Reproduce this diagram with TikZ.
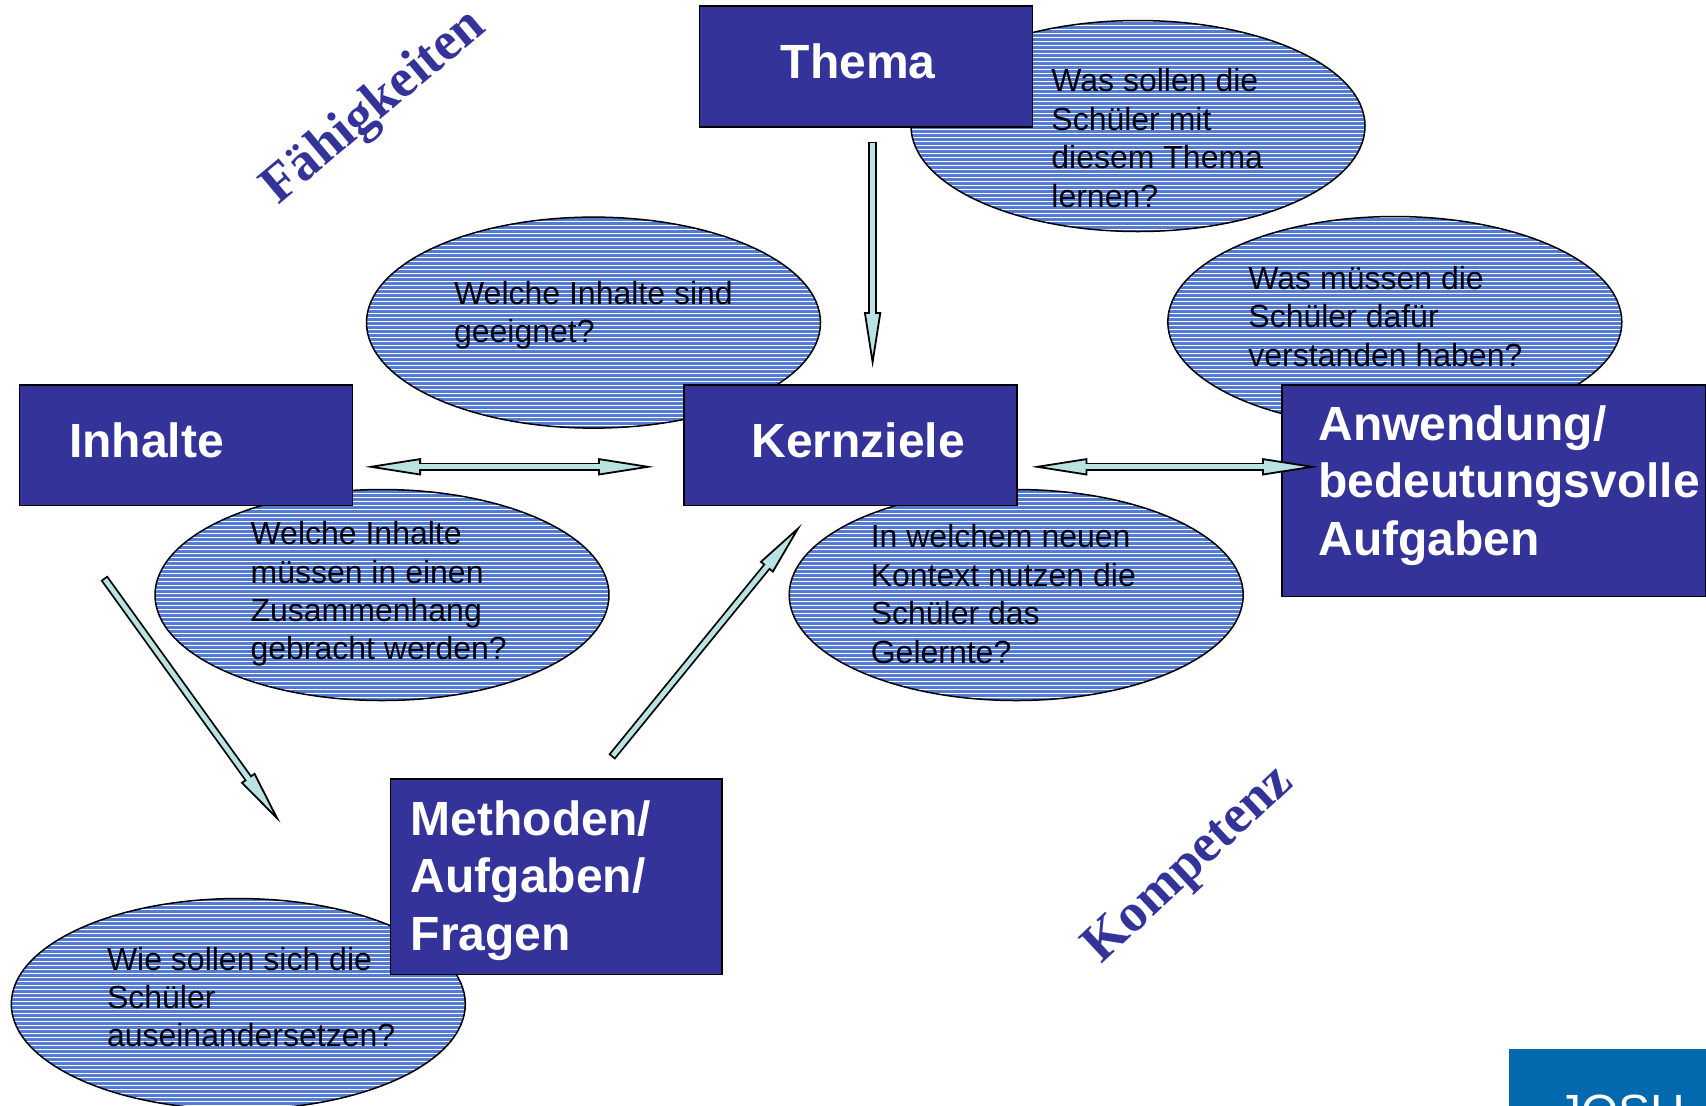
\documentclass[tikz,border=0pt]{standalone}
\usepackage{fontspec}
\setmainfont{Liberation Sans}
\newfontfamily\wordfont{Liberation Serif}
\usetikzlibrary{arrows.meta,shapes.geometric,patterns.meta}
\definecolor{boxblue}{RGB}{51,51,153}
\definecolor{ellblue}{RGB}{84,124,212}
\definecolor{arrowfill}{RGB}{185,226,226}
\definecolor{wordblue}{RGB}{51,51,153}
\definecolor{logoblue}{RGB}{3,105,175}

\begin{document}
\begin{tikzpicture}[
            x=0.5pt, y=-0.5pt,
            mybox/.style={
            rectangle,
            draw=black,
            line width=0.75pt,
            fill=boxblue,
            text=white,
            anchor=north west,
            inner sep=0pt,
            align=left,
            minimum width=166.5pt,
            minimum height=60.4pt,
            text depth=5.4pt,
            font=\fontsize{24}{28.75}\selectfont\bfseries},
        myellipse/.style={
            ellipse,
            draw=black,
            line width=0.75pt,
            minimum width=227pt,
            minimum height=105.5pt,
            inner sep=0pt,
            preaction={fill=ellblue},
            pattern={Lines[angle=0,distance=2pt,line width=0.45pt]},
            pattern color=white},
        mytext/.style={anchor=west, align=left, inner sep=0pt,
            font=\fontsize{16}{19.2}\selectfont},
        myword/.style={text=wordblue, inner sep=0pt,
            font=\wordfont\bfseries\fontsize{27}{30}\selectfont},
        >={Triangle[length=28pt,width=8.5pt,fill=arrowfill,line width=0.9pt]},
        myarrow/.style={draw=black, line width=4.2pt, ->,
            postaction={draw=arrowfill, line width=2.4pt, arrows=-,
                shorten <=0.9pt, shorten >=26.5pt}},
        mydarrow/.style={draw=black, line width=4.2pt, <->,
            postaction={draw=arrowfill, line width=2.4pt, arrows=-,
                shorten <=26.5pt, shorten >=26.5pt}}
        ]
        \useasboundingbox (0,0) rectangle (1706,1105);

        % ellipses with the questions
        \node[myellipse] (ethema) at (1138,126) {};
        \node[myellipse] (einhalt) at (593.5,322.6) {};
        \node[myellipse] (everst) at (1394.8,322) {};
        \node[myellipse] (ezusam) at (382,595) {};
        \node[myellipse] (ekontext) at (1016.2,595) {};
        \node[myellipse] (emethode) at (238.3,1004) {};

        \node[mytext] (tthema) at (1051,138) {Was sollen die\\Schüler mit\\diesem Thema\\lernen?};
        \node[mytext] (tinhalt) at (453.7,315) {Welche Inhalte sind\\geeignet?};
        \node[mytext] (tverst) at (1248,316.5) {Was müssen die\\Schüler dafür\\verstanden haben?};
        \node[mytext] (tzusam) at (250.2,594) {Welche Inhalte\\müssen in einen\\Zusammenhang\\gebracht werden?};
        \node[mytext] (tkontext) at (870.4,594) {In welchem neuen\\Kontext nutzen die\\Schüler das\\Gelernte?};
        \node[mytext] (tmethode) at (106.6,997) {Wie sollen sich die\\Schüler\\auseinandersetzen?};

        % boxes
        \node[mybox, text width=85pt] (thema) at (698.5,5.4) {Thema};
        \node[mybox, text width=116.5pt] (inhalte) at (18.5,384) {Inhalte};
        \node[mybox, text width=99pt] (kernziele) at (683.3,384) {\mbox{Kernziele}};
        \node[mybox, minimum width=212pt, minimum height=105.8pt,
            text width=175.3pt, text depth=67.6pt] (anwendung) at (1281,384)
            {Anwendung/\\\mbox{bedeutungsvolle}\\Aufgaben};
        \node[mybox, minimum width=165.9pt, minimum height=97.9pt,
            text width=145.4pt, text depth=, text height=21.2pt] (methoden) at (389.5,778)
            {Methoden/\\Aufgaben/\\Fragen};

        % arrow ends
        \coordinate (a1) at (872.6,141.5);
        \coordinate (a2) at (872.6,368);
        \coordinate (b1) at (365,466.8);
        \coordinate (b2) at (654,466.8);
        \coordinate (c1) at (1031.4,466.8);
        \coordinate (c2) at (1318,466.8);
        \coordinate (d1) at (104,578);
        \coordinate (d2) at (280.5,823);
        \coordinate (f1) at (611.7,757);
        \coordinate (f2) at (801.7,524);

        \foreach \i/\j/\s in {% start/end/style
            a1/a2/myarrow,
            b1/b2/mydarrow,
            c1/c2/mydarrow,
            d1/d2/myarrow,
            f1/f2/myarrow}
            \draw[\s] (\i) -- (\j);

        % slanted words
        \node[myword, rotate=40] (faehig) at (375,108) {Fähigkeiten};
        \node[myword, rotate=43] (kompetenz) at (1190,866) {Kompetenz};

        % logo corner
        \begin{scope}
            \clip (0,0) rectangle (1706,1105);
            \node[fill=logoblue, anchor=north west, minimum width=98.5pt,
                minimum height=40pt, inner sep=0pt] (logo) at (1509,1049) {};
            \node[text=white, anchor=base west, inner sep=0pt,
                font=\fontsize{24}{28}\selectfont] (logotext) at (1557,1128) {JOSH};
        \end{scope}
\end{tikzpicture}
\end{document}
